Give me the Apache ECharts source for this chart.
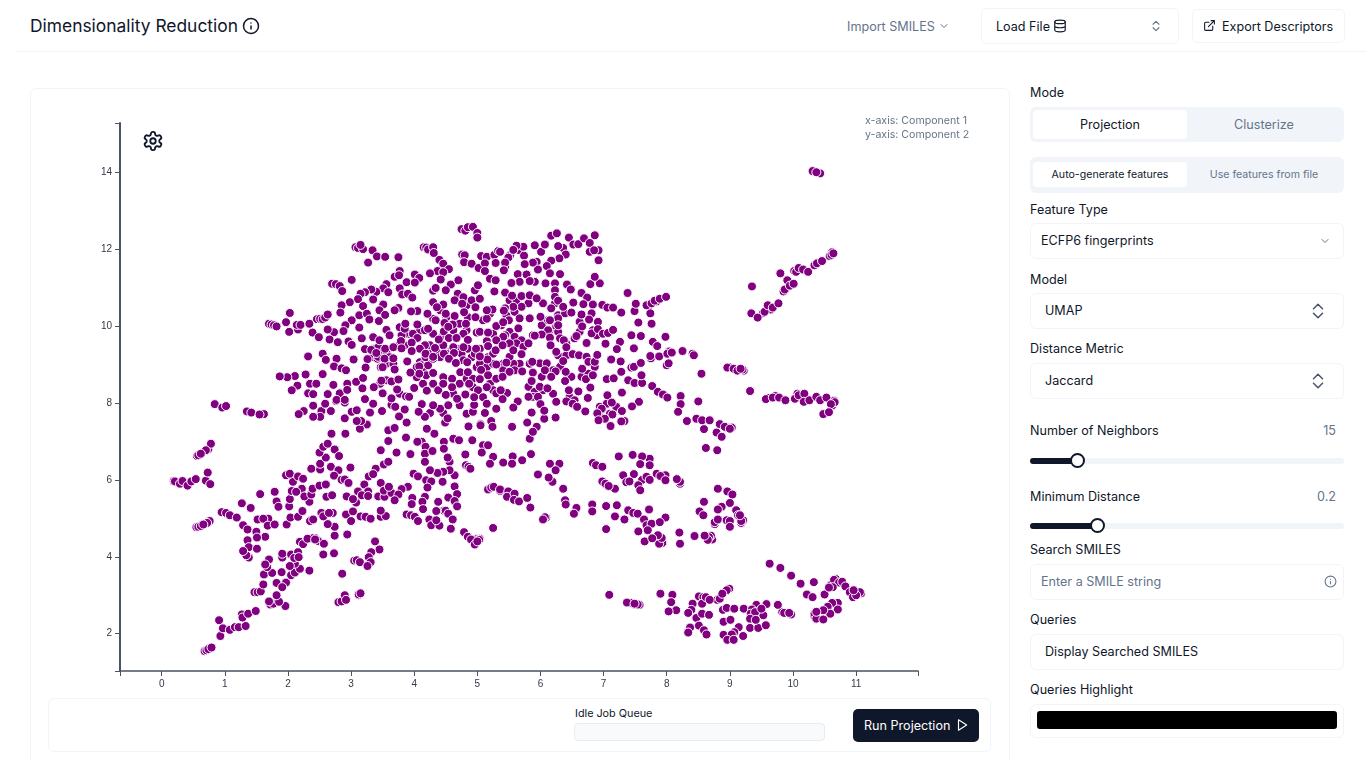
<!DOCTYPE html>
<html>
<head>
<meta charset="utf-8">
<title>Dimensionality Reduction</title>
<script src="https://cdn.jsdelivr.net/npm/echarts@6/dist/echarts.min.js"></script>
<style>
html, body { margin: 0; padding: 0; background: #fff; overflow: hidden; }
body { width: 1366px; height: 759px; position: relative; font-family: Inter, "Noto Sans", sans-serif; color: #0f172a; font-size: 12.6px; }
.abs { position: absolute; white-space: nowrap; }
.lbl { position: absolute; left: 1030px; line-height: 18px; white-space: nowrap; }
.box { position: absolute; left: 1030px; width: 312px; border: 1px solid #f1f5f9; border-radius: 6px; background: #fff; }
.val { position: absolute; line-height: 18px; white-space: nowrap; }
.muted { color: #64748b; }
.seg { position: absolute; left: 1030px; width: 314px; background: #f1f5f9; border-radius: 6px; }
.segOn { position: absolute; left: 1033px; width: 154px; background: #fff; border-radius: 4px; }
.ctr { position: absolute; text-align: center; width: 154px; line-height: 18px; }
.track { position: absolute; left: 1030px; width: 314px; height: 6px; border-radius: 3px; background: #f1f5f9; }
.fill { position: absolute; left: 1030px; height: 6px; border-radius: 3px; background: #0f172a; }
.thumb { position: absolute; width: 11px; height: 11px; border: 2px solid #0f172a; border-radius: 50%; background: #fff; }
svg.ic { position: absolute; fill: none; stroke-linecap: round; stroke-linejoin: round; }
#main { position: absolute; left: 30px; top: 88px; width: 980px; height: 610px; }
</style>
</head>
<body>
<div class="abs" style="left:30px;top:14px;font-size:17.4px;line-height:24px;">Dimensionality Reduction</div>
<svg class="ic" style="left:242px;top:17px;" width="18" height="18" viewBox="0 0 24 24" stroke="#0f172a" stroke-width="2"><circle cx="12" cy="12" r="10"/><path d="M12 16v-4M12 8h.01"/></svg>
<div class="abs" style="left:15px;right:0;top:51px;height:1px;background:#f1f3f6;"></div>
<div class="abs muted" style="left:847px;top:19px;line-height:16px;">Import SMILES</div>
<svg class="ic" style="left:938px;top:20px;" width="12" height="12" viewBox="0 0 24 24" stroke="#64748b" stroke-width="2"><path d="M6 9l6 6 6-6"/></svg>
<div class="abs" style="left:981px;top:8px;width:196px;height:34px;border:1px solid #f1f5f9;border-radius:6px;"></div>
<div class="abs" style="left:996px;top:19px;line-height:16px;">Load File</div>
<svg class="ic" style="left:1053px;top:19px;" width="14" height="14" viewBox="0 0 24 24" stroke="#0f172a" stroke-width="2"><ellipse cx="12" cy="5" rx="9" ry="3"/><path d="M3 5v14c0 1.7 4 3 9 3s9-1.3 9-3V5M3 12c0 1.7 4 3 9 3s9-1.3 9-3"/></svg>
<svg class="ic" style="left:1149px;top:18px;" width="14" height="16" viewBox="0 0 24 24" stroke="#64748b" stroke-width="2"><path d="M7 9l5-5 5 5M7 15l5 5 5-5"/></svg>
<div class="abs" style="left:1192px;top:9px;width:151px;height:32px;border:1px solid #f1f5f9;border-radius:6px;"></div>
<svg class="ic" style="left:1203px;top:19px;" width="13" height="13" viewBox="0 0 24 24" stroke="#0f172a" stroke-width="2"><path d="M15 3h6v6M10 14L21 3M18 13v6a2 2 0 0 1-2 2H5a2 2 0 0 1-2-2V8a2 2 0 0 1 2-2h6"/></svg>
<div class="abs" style="left:1222px;top:19px;line-height:16px;">Export Descriptors</div>

<div class="abs" style="left:30px;top:88px;width:978px;height:700px;border:1px solid #f1f5f9;border-radius:6px;"></div>
<div id="main"></div>
<svg class="ic" style="left:142px;top:130px;z-index:2;" width="22" height="22" viewBox="0 0 24 24" stroke="#0f172a" stroke-width="2"><path d="M12.22 2h-.44a2 2 0 0 0-2 2v.18a2 2 0 0 1-1 1.73l-.43.25a2 2 0 0 1-2 0l-.15-.08a2 2 0 0 0-2.73.73l-.22.38a2 2 0 0 0 .73 2.73l.15.1a2 2 0 0 1 1 1.72v.51a2 2 0 0 1-1 1.74l-.15.09a2 2 0 0 0-.73 2.73l.22.38a2 2 0 0 0 2.73.73l.15-.08a2 2 0 0 1 2 0l.43.25a2 2 0 0 1 1 1.73V20a2 2 0 0 0 2 2h.44a2 2 0 0 0 2-2v-.18a2 2 0 0 1 1-1.73l.43-.25a2 2 0 0 1 2 0l.15.08a2 2 0 0 0 2.73-.73l.22-.39a2 2 0 0 0-.73-2.73l-.15-.08a2 2 0 0 1-1-1.74v-.5a2 2 0 0 1 1-1.74l.15-.09a2 2 0 0 0 .73-2.73l-.22-.38a2 2 0 0 0-2.73-.73l-.15.08a2 2 0 0 1-2 0l-.43-.25a2 2 0 0 1-1-1.73V4a2 2 0 0 0-2-2z"/><circle cx="12" cy="12" r="3"/></svg>
<div class="abs muted" style="left:865px;top:114px;font-size:10.6px;line-height:14.4px;z-index:2;">x-axis: Component 1<br>y-axis: Component 2</div>

<div class="abs" style="left:48px;top:698px;width:941px;height:52px;border:1px solid #f1f5f9;border-radius:6px;background:#fff;"></div>
<div class="abs" style="left:575px;top:707px;font-size:10.8px;line-height:14px;">Idle Job Queue</div>
<div class="abs" style="left:574px;top:723px;width:249px;height:16px;border:1px solid #e8ecf1;border-radius:4px;background:#f8fafc;"></div>
<div class="abs" style="left:853px;top:709px;width:126px;height:33px;border-radius:5px;background:#0f172a;"></div>
<div class="abs" style="left:864px;top:718px;line-height:16px;color:#fff;">Run Projection</div>
<svg class="ic" style="left:955px;top:718px;" width="14" height="14" viewBox="0 0 24 24" stroke="#fff" stroke-width="2"><path d="M6 3l14 9-14 9z"/></svg>

<div class="lbl" style="top:84px;">Mode</div>
<div class="seg" style="top:107px;height:35px;"></div>
<div class="segOn" style="top:110px;height:29px;"></div>
<div class="ctr" style="left:1033px;top:116px;">Projection</div>
<div class="ctr muted" style="left:1187px;top:116px;">Clusterize</div>
<div class="seg" style="top:157px;height:36px;"></div>
<div class="segOn" style="top:162px;height:25px;"></div>
<div class="ctr" style="left:1033px;top:166px;font-size:10.6px;">Auto-generate features</div>
<div class="ctr muted" style="left:1187px;top:166px;font-size:10.6px;">Use features from file</div>

<div class="lbl" style="top:201px;">Feature Type</div>
<div class="box" style="top:223px;height:34px;"></div>
<div class="val" style="left:1041px;top:232px;">ECFP6 fingerprints</div>
<svg class="ic" style="left:1319px;top:235px;" width="12" height="12" viewBox="0 0 24 24" stroke="#64748b" stroke-width="2"><path d="M6 9l6 6 6-6"/></svg>

<div class="lbl" style="top:271px;">Model</div>
<div class="box" style="top:293px;height:34px;"></div>
<div class="val" style="left:1045px;top:302px;">UMAP</div>
<svg class="ic" style="left:1309px;top:301px;" width="18" height="20" viewBox="0 0 24 24" stroke="#475569" stroke-width="2"><path d="M6 9l6-6 6 6M6 15l6 6 6-6"/></svg>

<div class="lbl" style="top:340px;">Distance Metric</div>
<div class="box" style="top:363px;height:34px;"></div>
<div class="val" style="left:1045px;top:372px;">Jaccard</div>
<svg class="ic" style="left:1309px;top:371px;" width="18" height="20" viewBox="0 0 24 24" stroke="#475569" stroke-width="2"><path d="M6 9l6-6 6 6M6 15l6 6 6-6"/></svg>

<div class="lbl" style="top:422px;">Number of Neighbors</div>
<div class="val muted" style="right:30px;top:422px;">15</div>
<div class="track" style="top:458px;"></div>
<div class="fill" style="top:458px;width:47px;"></div>
<div class="thumb" style="left:1070px;top:453px;"></div>

<div class="lbl" style="top:488px;">Minimum Distance</div>
<div class="val muted" style="right:30px;top:488px;">0.2</div>
<div class="track" style="top:523px;"></div>
<div class="fill" style="top:523px;width:67px;"></div>
<div class="thumb" style="left:1090px;top:518px;"></div>

<div class="lbl" style="top:541px;">Search SMILES</div>
<div class="box" style="top:564px;height:34px;"></div>
<div class="val muted" style="left:1041px;top:573px;">Enter a SMILE string</div>
<svg class="ic" style="left:1324px;top:575px;" width="13" height="13" viewBox="0 0 24 24" stroke="#64748b" stroke-width="2"><circle cx="12" cy="12" r="10"/><path d="M12 16v-4M12 8h.01"/></svg>

<div class="lbl" style="top:611px;">Queries</div>
<div class="box" style="top:634px;height:34px;"></div>
<div class="val" style="left:1045px;top:643px;">Display Searched SMILES</div>

<div class="lbl" style="top:681px;">Queries Highlight</div>
<div class="box" style="top:704px;height:32px;"></div>
<div class="abs" style="left:1037px;top:711px;width:300px;height:18px;border-radius:3px;background:#000;"></div>

<script>
var xTickLabels = [0, 1, 2, 3, 4, 5, 6, 7, 8, 9, 10, 11];
var yTickLabels = [2, 4, 6, 8, 10, 12, 14];
var xRange = [-0.66, 11.98];
var yRange = [1.03, 15.28];

// one list per part of the cloud
// overlapped dots that only show as a crescent, drawn first
var overlappedDots = [[10.31,14.03],[10.43,13.97],[0.68,1.55],[1.72,10.05],[1.70,10.06],[2.46,10.18],[2.70,11.10],[3.07,12.05],[4.15,12.05],[4.75,12.52],[4.76,11.86],[0.19,5.97],[0.25,5.93],[0.55,4.77],[0.76,4.93],[0.74,6.80],[0.56,6.62],[0.95,5.16],[1.47,3.08],[1.72,2.76],[2.80,2.82],[3.05,3.90],[3.12,3.00],[2.43,4.49],[2.39,4.48],[4.47,5.20],[4.99,4.46],[5.04,4.47],[5.05,7.45],[10.60,11.85],[10.62,11.92],[10.34,11.58],[10.02,11.43],[9.85,10.90],[9.52,10.33],[9.65,10.43],[8.99,8.93],[9.22,8.84],[9.20,8.87],[10.62,7.93],[10.65,8.06],[8.94,7.36],[9.03,7.36],[7.84,10.64],[7.72,10.52],[8.41,9.28],[8.04,9.34],[7.75,9.16],[8.00,8.98],[9.62,8.13],[9.72,8.18],[10.07,8.24],[7.50,2.76],[7.57,2.75],[8.51,2.97],[8.58,2.95],[8.99,3.17],[8.80,2.88],[9.83,2.56],[9.97,2.50],[10.34,2.45],[10.68,3.42],[10.60,3.27],[11.08,3.05],[8.72,4.45],[8.70,4.55],[7.93,4.36],[9.18,4.88],[9.21,4.95],[8.76,4.85],[6.09,5.02],[8.21,5.90],[7.61,6.00],[7.98,6.12]];
var denseLeftCore = [[3.35,9.41],[3.43,9.45],[3.51,9.32],[3.57,9.28],[3.35,9.19],[3.42,9.15],[3.54,9.41],[3.47,8.93],[3.56,9.02],[3.61,9.19],[3.67,9.02],[3.80,9.63],[3.85,9.50],[3.91,9.80],[3.85,9.80],[3.80,9.76],[4.09,9.06],[4.04,8.93],[4.12,8.98],[4.17,8.93],[4.22,8.98],[4.18,9.19],[4.27,9.32],[4.35,9.37],[4.46,9.50],[4.56,9.32],[4.67,9.41],[4.62,9.45],[4.75,9.28],[4.85,9.41],[4.91,9.19],[4.96,9.28],[5.04,9.41],[5.09,9.11],[4.99,8.93],[5.04,9.02],[5.15,8.93],[5.25,9.02],[5.17,9.19],[5.25,9.28],[3.77,9.97],[3.85,9.93],[4.09,9.89],[4.17,9.89],[4.30,9.80],[4.46,9.76],[4.62,9.89],[4.72,10.06],[4.85,10.23],[5.09,10.15],[5.17,9.84],[5.25,9.80],[4.83,9.89],[4.78,9.80],[4.51,10.23],[4.41,10.41],[4.30,10.19],[4.83,10.54],[5.20,10.32],[5.15,10.19],[3.77,9.54],[3.67,9.45],[4.25,9.50],[4.17,9.50],[4.09,9.41],[4.51,9.28],[4.41,9.19],[4.30,9.15],[4.78,9.11],[3.46,8.50],[3.56,8.59],[3.77,8.24],[4.04,8.67],[4.14,8.50],[4.30,8.50],[4.38,8.33],[4.62,8.24],[4.72,8.50],[4.83,8.63],[4.93,8.63],[4.93,8.41],[5.01,8.33],[5.20,8.50],[5.25,8.33],[5.09,8.15]];
var denseRightCore = [[5.46,10.28],[5.59,10.37],[5.67,10.20],[5.51,9.85],[5.38,10.02],[5.44,9.76],[5.59,9.72],[5.70,9.63],[5.62,9.55],[5.51,9.55],[5.41,9.72],[5.73,9.46],[5.88,9.76],[6.02,10.02],[6.12,10.15],[6.15,9.89],[6.25,9.99],[6.28,9.85],[6.28,10.28],[6.39,10.33],[6.62,10.11],[6.83,9.89],[6.89,9.76],[6.62,9.85],[6.54,9.68],[6.41,9.54],[6.31,9.68],[6.28,9.24],[6.41,9.24],[5.99,9.03],[6.10,9.03],[6.20,8.85],[6.31,8.94],[6.02,8.68],[5.83,9.02],[5.67,9.02],[5.57,9.02],[5.51,9.20],[5.41,9.02],[5.59,8.85],[5.41,8.85],[5.81,8.42],[5.91,8.29],[6.04,8.33],[6.20,8.24],[5.99,8.42],[5.88,8.16],[6.46,8.16],[6.54,8.07],[6.94,7.90],[7.05,7.98],[7.20,7.90],[7.10,7.72],[6.94,7.64],[6.49,8.68],[6.65,8.68],[6.76,8.76],[6.86,8.94],[5.52,11.84],[5.67,11.97],[5.94,11.67],[5.44,11.54],[5.91,11.15],[6.23,10.59],[5.51,10.67],[6.04,10.59],[5.81,10.59],[5.62,10.67]];
var tailBottomLeft = [[0.71,1.57],[0.74,1.60],[0.79,1.64],[0.93,1.94],[0.91,2.35],[0.97,2.14],[1.08,2.10],[1.16,2.17],[1.22,2.17],[1.33,2.20],[1.27,2.50],[1.28,2.42],[1.37,2.52],[1.49,2.59],[1.96,2.72],[1.77,2.78],[1.70,2.84],[1.86,2.83],[1.82,3.00],[1.52,3.08],[1.57,3.10],[1.61,3.28],[1.82,3.32],[1.97,3.33],[1.91,3.21],[1.62,3.54],[1.75,3.58],[1.90,3.60],[2.05,3.52],[2.11,3.59],[2.19,3.69],[2.34,3.64],[2.86,3.56],[1.67,3.73],[1.70,3.93],[1.64,3.80],[2.11,3.82],[2.03,3.76],[1.91,3.98],[1.91,4.08],[2.05,4.06],[2.16,4.12],[2.10,3.97],[2.17,3.99],[2.19,4.39],[2.24,4.33],[2.31,4.47],[2.48,4.41],[2.43,4.45],[2.57,4.34],[2.56,4.06],[2.73,4.09],[2.94,4.58],[2.74,4.55],[2.74,4.78],[2.63,4.85],[2.53,5.14],[2.56,5.05],[2.71,5.14],[2.65,5.14],[2.35,4.93],[2.40,4.97],[2.92,5.10],[3.00,4.93],[3.03,5.18],[3.15,5.05],[3.23,5.04],[3.31,4.99],[3.47,5.04],[3.55,5.06],[3.47,5.20],[2.85,2.84],[2.90,3.00],[2.92,2.88],[3.12,3.02],[3.15,3.05],[3.38,4.40],[3.45,4.19],[3.32,4.12],[3.28,3.99],[3.09,3.91],[3.14,3.86],[3.31,3.86],[3.26,3.76]];
var farLeftGroups = [[0.84,7.97],[0.96,7.88],[1.02,7.92],[1.35,7.78],[1.42,7.75],[1.62,7.71],[1.55,7.70],[0.21,5.96],[0.29,5.90],[0.33,5.97],[0.41,5.85],[0.47,5.96],[0.54,6.02],[0.70,5.98],[0.73,6.19],[0.77,5.89],[0.78,6.94],[0.70,6.77],[0.58,6.64],[0.62,6.68],[0.72,4.88],[0.58,4.78],[0.62,4.80],[0.66,4.84],[1.02,5.14],[1.08,5.08],[1.19,5.02],[1.27,5.39],[1.41,5.27],[1.56,5.63],[1.79,5.69],[1.82,5.44],[1.85,5.30],[2.02,5.31],[2.03,5.50],[1.52,4.97],[1.69,4.99],[1.61,4.99],[1.68,4.81],[1.79,4.84],[1.29,4.82],[1.36,4.71],[1.50,4.65],[1.64,4.52],[1.51,4.50],[1.36,4.43],[1.38,4.25],[1.51,4.21],[1.38,3.98],[1.34,4.04],[1.29,4.15],[1.98,4.84],[2.04,5.02],[2.16,5.04],[2.23,5.19],[2.34,5.43]];
var midLeftBand = [[2.08,5.95],[1.97,6.12],[2.03,6.16],[2.16,6.09],[2.24,6.03],[2.22,5.77],[2.06,5.71],[2.13,5.69],[2.26,5.57],[2.37,5.62],[2.39,5.77],[2.50,5.85],[2.37,6.29],[2.51,6.27],[2.51,6.42],[2.60,6.58],[2.50,6.71],[2.56,6.86],[2.63,6.94],[2.74,6.79],[2.81,6.62],[2.68,6.34],[2.80,6.25],[2.73,6.11],[2.60,5.88],[2.61,5.56],[2.70,5.60],[2.85,6.00],[2.90,6.01],[2.96,5.92],[2.99,6.32],[2.93,5.57],[3.11,5.70],[3.08,5.41],[3.03,5.50],[3.21,5.88],[3.27,5.70],[3.17,5.60],[3.27,5.58],[3.28,6.09],[3.39,6.29],[3.35,6.15],[3.47,5.92],[3.43,5.57],[3.53,5.56],[3.52,6.40],[3.59,6.47],[3.52,5.72],[3.64,5.66],[3.60,5.82],[3.59,7.01],[3.47,6.77],[3.72,6.71],[3.94,6.67],[3.87,7.10],[3.59,7.29],[3.69,7.35],[3.88,7.49],[3.76,7.65],[3.85,7.83],[3.49,7.79],[3.30,7.75],[3.25,7.44],[3.14,7.33],[3.16,7.53],[3.09,7.53],[3.01,7.77],[3.09,7.81],[2.90,7.60],[2.91,7.20],[2.69,7.20],[2.68,7.79],[2.53,7.79],[2.51,7.64],[2.40,7.64],[2.25,7.79],[2.17,7.71],[2.40,7.93],[2.59,7.98],[2.76,8.05],[2.90,8.01],[3.35,7.98],[3.64,7.95],[3.70,7.90]];
var midCentre = [[4.12,6.99],[4.05,6.99],[4.18,6.86],[4.17,6.68],[4.29,6.75],[4.20,7.33],[4.32,7.20],[4.47,6.99],[4.47,6.81],[4.62,7.07],[4.71,7.03],[4.92,7.03],[5.09,6.90],[5.17,6.90],[5.07,6.71],[5.25,6.60],[5.20,6.42],[4.81,6.66],[4.82,6.38],[4.86,6.34],[4.89,6.29],[4.56,6.47],[4.53,6.58],[4.45,5.95],[4.64,6.12],[4.56,6.25],[4.46,6.21],[4.37,6.18],[4.25,6.25],[3.99,6.16],[4.06,6.09],[4.17,6.47],[4.19,5.99],[4.27,5.96],[4.21,5.80],[4.64,5.83],[4.68,5.63],[4.54,5.54],[4.64,5.45],[4.38,5.43],[4.17,5.56],[4.13,5.43],[3.97,5.53],[3.90,5.82],[3.80,5.76],[3.75,5.62],[3.69,5.47],[3.96,5.37],[4.14,5.24],[4.35,5.19],[4.50,5.20],[4.68,5.31],[4.54,5.12],[3.88,5.10],[3.95,5.08],[4.01,5.04],[4.06,4.93],[4.24,4.97],[4.27,4.82],[4.40,4.81],[4.61,4.97],[4.58,4.73],[4.35,4.95],[4.79,4.64],[4.85,4.52],[4.90,4.45],[4.96,4.32],[5.03,4.44],[5.00,4.40],[5.25,4.75],[5.17,5.75],[5.22,5.80],[5.26,5.82],[5.36,5.71],[4.46,7.74],[4.49,7.49],[4.53,7.60],[4.25,7.74],[4.17,7.64],[4.86,7.39],[4.83,7.72],[4.93,7.77],[5.05,7.42],[5.22,7.53],[5.12,7.74],[5.30,7.85],[5.24,7.38],[4.54,7.94],[4.41,7.85],[4.30,7.94],[4.12,7.97],[4.72,7.94],[4.95,7.95],[5.15,7.98],[4.07,7.77]];
var upperLeftCap = [[4.81,12.48],[4.85,12.57],[4.93,12.58],[5.00,12.42],[5.00,12.30],[3.11,12.03],[3.19,12.00],[3.15,12.11],[3.34,11.97],[3.41,11.81],[3.54,11.80],[3.75,11.79],[3.27,11.65],[4.19,12.04],[4.22,11.99],[4.30,12.05],[4.31,11.90],[4.40,11.72],[4.46,11.62],[4.55,11.48],[4.37,11.43],[4.25,11.37],[4.46,11.40],[4.80,11.84],[4.79,11.66],[4.91,11.62],[5.06,11.82],[5.15,11.80],[5.02,11.51],[5.12,11.63],[5.12,11.43],[5.27,11.85],[5.29,11.64],[5.33,11.95],[5.20,11.23],[5.29,11.19],[3.69,11.28],[3.77,11.43],[3.76,11.32],[4.01,11.34],[4.08,11.25],[3.88,11.14],[4.01,11.13],[3.01,11.20],[2.76,11.09],[2.82,11.04],[2.86,10.91],[3.56,11.09],[3.51,10.98],[3.40,10.89],[3.59,10.88],[3.32,10.95],[3.22,10.88],[3.15,10.84],[3.11,10.70],[2.98,10.62],[2.85,10.54],[3.35,10.69],[3.19,10.52],[3.51,10.56],[3.77,10.98],[3.81,10.82],[3.90,10.84],[3.97,10.74],[4.42,11.21],[4.58,11.08],[4.70,11.19],[4.30,10.92],[4.34,10.99],[4.50,10.93],[4.69,10.84],[4.78,10.75],[4.64,10.67],[4.91,10.67],[5.04,10.71],[4.96,10.93],[5.01,11.06],[5.27,10.90],[4.76,10.58],[4.30,10.62],[4.46,10.56],[4.36,10.49],[4.97,10.49],[5.24,10.43],[5.15,10.41],[4.97,10.23],[4.79,10.36],[4.64,10.26],[4.50,10.32],[4.21,10.32],[4.05,10.39],[3.95,10.38],[3.75,10.47],[3.69,10.41]];
var leftMiddle = [[2.03,10.34],[1.74,10.04],[1.78,10.02],[1.82,9.99],[1.97,10.10],[2.02,9.85],[2.16,9.91],[2.14,10.03],[2.20,10.03],[2.34,10.06],[2.51,10.19],[2.55,10.18],[2.59,10.22],[2.63,10.30],[2.83,10.35],[3.01,10.15],[3.13,10.28],[3.25,10.32],[3.29,10.17],[3.45,10.41],[3.54,10.29],[3.44,10.13],[3.13,9.96],[2.91,10.02],[2.88,9.87],[2.73,9.84],[2.63,9.91],[2.39,9.83],[2.49,9.71],[2.66,9.65],[2.79,9.58],[2.96,9.60],[3.01,9.51],[3.17,9.68],[3.35,9.71],[3.56,9.90],[3.61,9.76],[3.45,9.63],[3.79,9.61],[3.86,10.06],[4.05,10.04],[3.98,9.80],[4.05,9.69],[4.22,9.93],[4.34,10.15],[4.48,10.08],[4.61,10.04],[4.82,10.06],[4.47,9.86],[4.54,9.98],[4.99,9.83],[4.39,9.65],[4.55,9.69],[4.67,9.69],[4.85,9.64],[5.15,9.61],[5.30,9.63],[5.04,9.85],[5.30,10.00],[5.17,9.83],[3.96,9.57],[3.96,9.35],[4.33,9.43],[4.78,9.45],[4.98,9.41],[5.17,9.48],[5.29,9.37],[4.47,9.28],[4.63,9.30],[4.18,9.28],[4.30,9.20],[3.22,9.40],[3.32,9.38],[3.43,9.20],[3.53,9.15],[3.67,9.16],[3.80,9.42],[3.40,9.30],[2.32,9.21],[2.55,9.28],[2.60,9.12],[2.77,9.15],[3.04,9.13],[3.26,9.14],[3.89,9.08],[4.55,9.15],[4.84,9.06],[4.66,9.04],[5.16,9.13],[5.04,9.21],[5.30,9.00],[3.23,8.92],[3.50,8.93],[3.69,8.87],[4.08,8.95],[2.73,8.95],[2.85,8.90],[2.92,8.85],[4.19,8.72],[4.08,8.76],[3.94,8.79],[4.30,8.78],[4.46,8.67],[4.60,8.63],[4.73,8.80],[4.85,8.80],[5.06,8.86],[5.17,8.72],[5.30,8.63],[2.55,8.75],[2.28,8.74],[2.11,8.70],[1.99,8.67],[1.87,8.69],[2.15,8.45],[2.35,8.50],[2.45,8.50],[2.06,8.33],[2.32,8.25],[2.40,8.23],[2.63,8.23],[2.72,8.47],[2.82,8.25],[2.94,8.50],[3.08,8.55],[3.19,8.65],[2.94,8.34],[3.18,8.38],[3.36,8.41],[3.50,8.25],[3.48,8.58],[3.64,8.56],[3.75,8.61],[3.73,8.35],[4.00,8.39],[4.20,8.32],[3.87,8.17],[3.92,8.16],[4.46,8.50],[4.60,8.41],[4.87,8.50],[5.15,8.41],[5.04,8.62],[4.81,8.22],[4.50,8.21],[4.95,8.15],[4.68,8.11],[5.30,8.25],[3.22,8.10],[3.64,8.12],[2.77,8.08],[2.90,8.08]];
var upperRightCap = [[6.17,12.35],[6.26,12.41],[6.45,12.30],[6.52,12.12],[6.60,12.13],[6.69,12.28],[6.86,12.36],[6.78,12.16],[6.92,11.97],[6.78,11.93],[6.85,11.97],[6.92,11.71],[6.36,12.03],[6.28,12.08],[6.01,11.93],[5.91,12.10],[5.73,12.06],[5.62,12.09],[5.57,11.98],[6.07,12.12],[6.40,11.86],[6.30,11.76],[6.17,11.70],[6.10,11.56],[5.96,11.47],[5.88,11.65],[5.74,11.83],[5.75,11.61],[5.49,11.78],[5.44,11.65],[5.42,11.45],[5.36,11.93],[5.64,11.35],[5.78,11.34],[6.15,11.37],[6.31,11.35],[5.67,11.15],[5.83,11.17],[5.54,11.12],[6.08,11.11],[6.23,11.11],[6.23,10.93],[6.42,11.08],[6.48,10.95],[6.65,10.86],[6.79,11.09],[6.94,11.11],[6.86,11.28],[6.74,10.74],[5.44,10.87],[5.55,10.79],[5.70,10.78],[5.83,10.80],[5.94,10.72],[6.23,10.76],[6.28,10.66],[6.52,10.61],[6.68,10.57],[6.83,10.56],[6.98,10.55],[7.06,10.48],[7.15,10.48],[6.36,10.50],[6.17,10.46],[5.70,10.50],[5.57,10.50],[5.44,10.46],[5.42,10.40],[5.83,10.20],[6.28,10.20],[6.15,10.15],[6.49,10.35],[6.65,10.30],[6.81,10.33],[6.91,10.11],[6.77,10.17],[6.66,9.99],[6.28,10.02],[6.00,10.24],[5.50,10.15],[5.41,10.10],[5.65,9.94],[6.12,9.89],[6.02,9.78],[5.91,9.75],[5.81,9.55],[6.15,9.70],[6.16,9.50],[6.37,9.63],[6.57,9.74],[6.73,9.56],[6.41,9.45],[6.81,9.81],[6.91,9.92],[6.99,9.80],[7.07,9.82],[7.15,9.90],[7.03,9.54],[7.26,9.59],[7.21,9.40],[7.12,9.13],[7.27,9.08],[7.28,8.81],[7.44,8.92],[7.48,8.94],[7.59,9.04]];
var rightMiddle = [[7.48,9.42],[7.44,9.76],[7.59,9.74],[7.78,9.59],[7.85,9.48],[7.98,9.72],[7.74,9.22],[7.88,9.21],[8.01,9.28],[8.08,9.31],[8.25,9.35],[8.43,9.24],[8.03,9.03],[8.55,8.76],[7.28,10.35],[7.49,10.39],[7.51,10.58],[7.38,10.86],[7.55,10.09],[7.76,10.06],[7.74,10.33],[7.68,10.54],[7.76,10.59],[7.81,10.66],[7.89,10.71],[7.99,10.76],[6.25,9.33],[6.36,9.09],[6.51,9.27],[6.61,9.24],[6.73,9.20],[6.76,9.07],[6.86,9.07],[6.90,9.25],[6.66,8.89],[6.07,8.85],[6.24,8.82],[6.40,8.81],[5.88,8.79],[5.71,8.82],[5.51,8.81],[5.46,9.05],[5.70,9.27],[5.57,9.37],[5.87,9.07],[5.40,9.50],[5.40,8.68],[5.86,8.57],[6.17,8.68],[6.39,8.57],[6.72,8.62],[6.83,8.72],[7.05,8.62],[7.16,8.64],[7.39,8.59],[7.49,8.52],[7.61,8.52],[7.60,8.72],[7.77,8.44],[7.86,8.29],[7.94,8.22],[8.01,8.14],[8.22,8.18],[8.22,7.97],[8.50,8.04],[8.18,7.77],[7.56,8.03],[7.45,7.91],[7.29,8.27],[6.79,8.40],[6.60,8.30],[6.45,8.33],[6.11,8.38],[5.96,8.16],[5.81,8.16],[6.00,7.97],[6.25,8.03],[6.41,8.04],[5.64,8.04],[5.47,8.26],[5.40,8.10],[5.57,7.88],[5.37,8.33],[5.86,7.75],[6.06,7.59],[6.24,7.62],[5.79,7.49],[5.55,7.38],[5.94,7.38],[5.83,7.07],[5.88,7.25],[6.06,7.80],[6.51,7.98],[6.58,7.90],[6.71,7.78],[6.75,8.13],[7.06,8.20],[6.97,7.85],[7.13,8.01],[7.29,7.79],[7.14,7.70],[6.90,7.73],[7.02,7.59],[6.92,7.55],[7.11,7.40],[7.33,7.53],[7.28,7.52],[8.32,7.53],[8.47,7.59],[8.56,7.55],[8.68,7.55],[8.59,7.32],[8.79,7.23],[8.84,7.45],[8.92,7.38],[9.00,7.33],[8.87,7.12],[8.62,6.83],[8.80,6.77]];
var rightArms = [[8.96,8.92],[9.06,8.89],[9.12,8.84],[9.17,8.89],[9.32,8.31],[9.57,8.10],[9.68,8.14],[9.78,8.14],[9.88,8.07],[10.03,8.11],[10.09,8.20],[10.18,8.24],[10.17,8.03],[10.26,8.07],[10.37,8.16],[10.43,8.07],[10.53,8.14],[10.66,8.02],[10.60,7.97],[10.48,7.71],[10.57,7.76],[9.34,10.33],[9.44,10.22],[9.35,11.03],[9.55,10.37],[9.60,10.54],[9.68,10.48],[9.77,10.59],[9.80,11.37],[9.87,10.95],[9.91,11.19],[9.95,11.05],[10.01,11.10],[10.05,11.41],[10.09,11.51],[10.16,11.47],[10.24,11.41],[10.38,11.63],[10.46,11.69],[10.58,11.82],[10.61,11.85],[10.64,11.89],[10.37,14.00]];
var lowerCentre = [[5.41,6.45],[5.56,6.61],[5.55,6.42],[5.71,6.51],[5.85,6.67],[6.15,6.42],[6.30,6.42],[6.24,6.25],[5.96,6.14],[6.19,5.95],[6.13,6.06],[6.36,5.77],[6.83,6.44],[6.88,6.38],[6.98,6.34],[7.24,6.61],[7.46,6.65],[7.73,6.55],[7.61,6.61],[7.58,6.41],[7.73,6.38],[7.31,6.12],[7.48,6.15],[7.36,5.94],[7.41,5.96],[7.55,5.86],[7.58,5.73],[6.98,5.96],[7.18,5.77],[7.03,5.90],[7.08,5.84],[7.68,6.08],[7.84,6.16],[7.90,6.10],[7.98,5.99],[7.73,6.00],[8.21,5.95],[8.16,6.02],[5.36,5.75],[5.49,5.70],[5.47,5.56],[5.59,5.64],[5.58,5.48],[5.66,5.44],[5.79,5.53],[5.84,5.28],[6.07,5.03],[6.04,4.97],[6.39,5.47],[6.40,5.36],[6.57,5.27],[6.53,5.12],[6.82,5.36],[6.82,5.18],[7.04,5.32],[7.21,5.34],[7.18,5.05],[7.33,4.97],[7.39,5.21],[7.47,5.14],[7.54,5.12],[7.72,5.23],[7.64,4.97],[7.68,4.82],[7.76,4.86],[7.98,5.02],[7.89,4.90],[7.04,4.72],[7.55,4.66],[7.70,4.69],[7.65,4.40],[7.88,4.34],[7.92,4.49],[7.86,4.56],[7.77,4.48],[8.20,4.63],[8.21,4.34],[8.44,4.54],[8.67,4.51],[8.65,4.44],[8.60,4.55],[8.81,5.77],[8.96,5.70],[9.04,5.62],[9.00,5.40],[8.59,5.43],[8.52,5.18],[8.58,5.08],[8.87,5.30],[8.81,5.23],[8.76,4.90],[8.81,4.97],[8.95,4.95],[9.00,4.93],[9.00,4.78],[9.10,5.21],[9.13,5.08],[9.18,4.93],[9.16,5.08]];
var lowerRight = [[9.63,3.82],[9.80,3.71],[9.97,3.51],[10.12,3.30],[10.33,3.34],[10.50,3.02],[10.22,3.02],[10.31,2.95],[10.65,3.40],[10.73,3.33],[10.63,3.21],[10.57,3.20],[10.78,3.35],[10.83,3.23],[10.90,3.08],[10.95,2.95],[11.06,3.08],[11.00,3.00],[10.96,3.13],[10.71,2.80],[10.62,2.80],[10.55,2.70],[10.71,2.63],[10.59,2.52],[10.48,2.61],[10.34,2.52],[10.37,2.39],[10.48,2.37],[10.37,2.57],[7.09,3.01],[7.44,2.80],[7.37,2.81],[7.54,2.76],[7.49,2.78],[7.90,3.04],[8.09,3.01],[8.07,2.82],[8.15,2.61],[8.03,2.58],[8.41,2.78],[8.56,2.78],[8.62,2.95],[8.68,2.88],[8.39,2.62],[8.34,2.54],[8.47,2.41],[8.56,2.52],[8.67,2.49],[8.51,2.21],[8.37,2.16],[8.34,2.03],[8.59,2.09],[8.63,1.98],[8.95,3.13],[8.84,2.91],[8.88,3.04],[8.89,2.62],[8.95,2.67],[9.07,2.65],[9.22,2.65],[8.90,2.31],[9.01,2.36],[9.14,2.17],[9.07,2.04],[8.90,1.97],[9.03,1.98],[8.96,1.84],[9.06,1.84],[9.21,1.94],[9.32,2.15],[9.45,2.15],[9.57,2.22],[9.42,2.75],[9.58,2.77],[9.76,2.75],[9.35,2.63],[9.33,2.52],[9.53,2.48],[9.40,2.56],[9.32,2.39],[9.41,2.36],[9.50,2.65],[9.86,2.54],[9.94,2.54]];

var allPoints = [].concat(overlappedDots, denseLeftCore, denseRightCore, tailBottomLeft, farLeftGroups, midLeftBand, midCentre, upperLeftCap, leftMiddle, upperRightCap, rightMiddle, rightArms, lowerCentre, lowerRight);

var myChart = echarts.init(document.getElementById('main'));
var axisColor = '#4b5263';
var tickFont = { color: '#333a47', fontSize: 10, fontFamily: '"Liberation Sans", sans-serif' };

var option = {
    animation: false,
    grid: { left: 90, top: 35, width: 798, height: 548 },
    tooltip: {},
    xAxis: {
        type: 'value',
        min: xRange[0],
        max: xRange[1],
        splitLine: { show: false },
        axisLine: { onZero: false, lineStyle: { color: axisColor, width: 1.5 } },
        axisTick: { length: 5, customValues: [xRange[0]].concat(xTickLabels, [xRange[1]]), lineStyle: { color: axisColor } },
        axisLabel: Object.assign({ margin: 8, customValues: xTickLabels }, tickFont)
    },
    yAxis: {
        type: 'value',
        min: yRange[0],
        max: yRange[1],
        splitLine: { show: false },
        axisLine: { onZero: false, lineStyle: { color: axisColor, width: 2 } },
        axisTick: { length: 5, customValues: [yRange[0]].concat(yTickLabels, [yRange[1]]), lineStyle: { color: axisColor } },
        axisLabel: Object.assign({ margin: 8, customValues: yTickLabels }, tickFont)
    },
    series: [{
        type: 'scatter',
        data: allPoints,
        symbolSize: 9,
        itemStyle: { color: '#800080', opacity: 1, borderColor: '#fff', borderWidth: 1 }
    }]
};
myChart.setOption(option);
</script>
</body>
</html>
